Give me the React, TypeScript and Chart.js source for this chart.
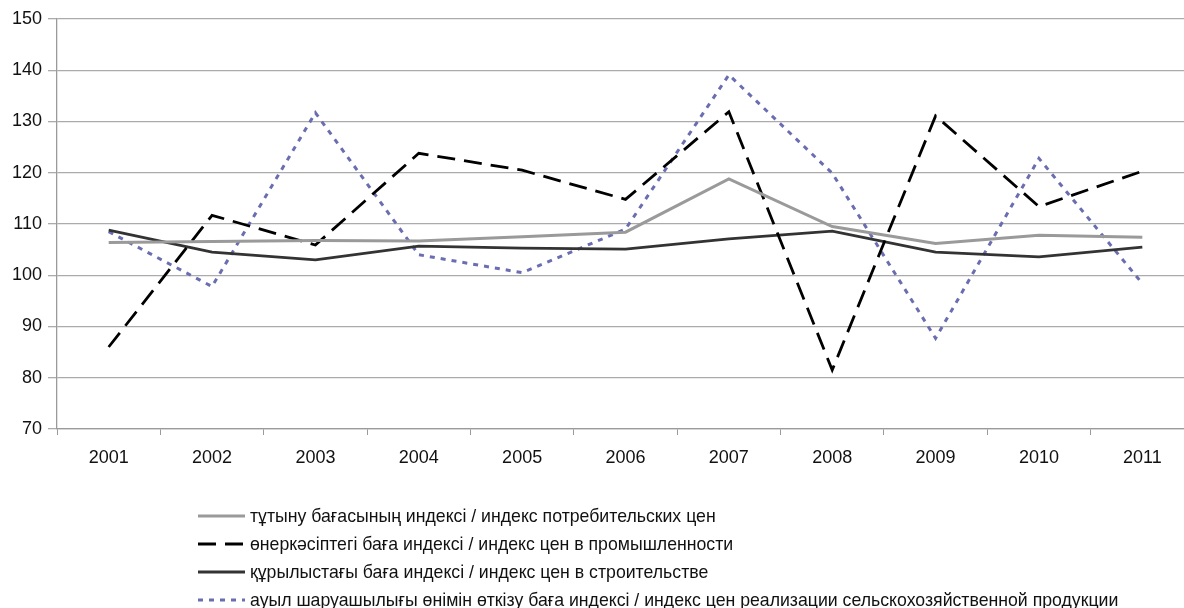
import React, { useEffect, useRef } from "react";
import { Chart, registerables } from "chart.js";

Chart.register(...registerables);

const years = ["2001", "2002", "2003", "2004", "2005", "2006", "2007", "2008", "2009", "2010", "2011"];

const consumerPrice = [106.4, 106.6, 106.8, 106.7, 107.5, 108.4, 118.8, 109.5, 106.2, 107.8, 107.4];
const industrialPrice = [86.0, 111.7, 105.9, 123.8, 120.5, 114.8, 131.9, 81.5, 131.1, 113.4, 120.3];
const constructionPrice = [108.8, 104.5, 103.0, 105.7, 105.3, 105.1, 107.1, 108.6, 104.5, 103.6, 105.5];
const agriculturalPrice = [108.5, 97.8, 131.7, 104.0, 100.5, 109.0, 139.1, 119.9, 87.7, 122.8, 98.4];

const yMin = 70;
const yMax = 150;
const yStep = 10;

const legendLabels = [
  "тұтыну бағасының индексі / индекс потребительских цен",
  "өнеркәсіптегі баға индексі / индекс цен в промышленности",
  "құрылыстағы баға индексі / индекс цен в строительстве",
  "ауыл шаруашылығы өнімін өткізу баға индексі / индекс цен реализации сельскохозяйственной продукции",
];

const FONT = "'Liberation Sans', Arial, Helvetica, sans-serif";

const stackedLegend = {
  id: "stackedLegend",
  afterDraw(chart: any) {
    const ctx = chart.ctx as CanvasRenderingContext2D;
    const top = 516;
    const row = 28;
    ctx.save();
    chart.data.datasets.forEach((ds: any, i: number) => {
      const y = top + i * row;
      ctx.beginPath();
      ctx.setLineDash(ds.borderDash || []);
      ctx.strokeStyle = ds.borderColor;
      ctx.lineWidth = ds.borderWidth;
      ctx.moveTo(198, y);
      ctx.lineTo(245, y);
      ctx.stroke();
      ctx.setLineDash([]);
      ctx.fillStyle = "#111111";
      ctx.font = `17.7px ${FONT}`;
      ctx.textBaseline = "middle";
      ctx.textAlign = "left";
      ctx.fillText(ds.label, 250, y + 1);
    });
    ctx.restore();
  },
};

export default function App() {
  const canvasRef = useRef<HTMLCanvasElement | null>(null);

  useEffect(() => {
    if (!canvasRef.current) return;
    const chart = new Chart(canvasRef.current, {
      type: "line",
      data: {
        labels: years,
        datasets: [
          {
            label: legendLabels[0],
            data: consumerPrice,
            borderColor: "#9a9a9a",
            borderWidth: 3,
            pointRadius: 0,
            tension: 0,
            fill: false,
          },
          {
            label: legendLabels[1],
            data: industrialPrice,
            borderColor: "#000000",
            borderWidth: 2.8,
            borderDash: [18, 9],
            pointRadius: 0,
            tension: 0,
            fill: false,
          },
          {
            label: legendLabels[2],
            data: constructionPrice,
            borderColor: "#333333",
            borderWidth: 2.8,
            pointRadius: 0,
            tension: 0,
            fill: false,
          },
          {
            label: legendLabels[3],
            data: agriculturalPrice,
            borderColor: "#6a6eb0",
            borderWidth: 3,
            borderDash: [5, 6],
            pointRadius: 0,
            tension: 0,
            fill: false,
          },
        ],
      },
      options: {
        animation: false,
        responsive: true,
        maintainAspectRatio: false,
        layout: { padding: { top: 19, right: 6, bottom: 129, left: 0 } },
        plugins: {
          legend: { display: false },
          tooltip: { enabled: false },
        },
        scales: {
          x: {
            type: "category",
            offset: true,
            afterFit: (scale: any) => {
              scale.height = 50;
            },
            grid: {
              offset: true,
              drawOnChartArea: false,
              tickLength: 6,
              color: "#9a9a9a",
            },
            border: { color: "#9a9a9a", width: 1.3 },
            ticks: {
              color: "#111111",
              font: { family: FONT, size: 18 },
              padding: 12,
              maxRotation: 0,
            },
          },
          y: {
            min: yMin,
            max: yMax,
            afterFit: (scale: any) => {
              scale.width = 57;
            },
            ticks: {
              stepSize: yStep,
              color: "#111111",
              font: { family: FONT, size: 18 },
              padding: 6,
            },
            grid: {
              color: "#ababab",
              lineWidth: 1.3,
              tickLength: 9,
            },
            border: { color: "#9a9a9a", width: 1.3 },
          },
        },
      },
      plugins: [stackedLegend],
    });
    return () => chart.destroy();
  }, []);

  return (
    <div
      style={{
        position: "fixed",
        left: 0,
        top: 0,
        width: 1184,
        height: 608,
        overflow: "hidden",
        background: "#ffffff",
      }}
    >
      <div style={{ position: "absolute", left: 0, top: 0, width: 1200, height: 608 }}>
        <canvas ref={canvasRef} />
      </div>
    </div>
  );
}
